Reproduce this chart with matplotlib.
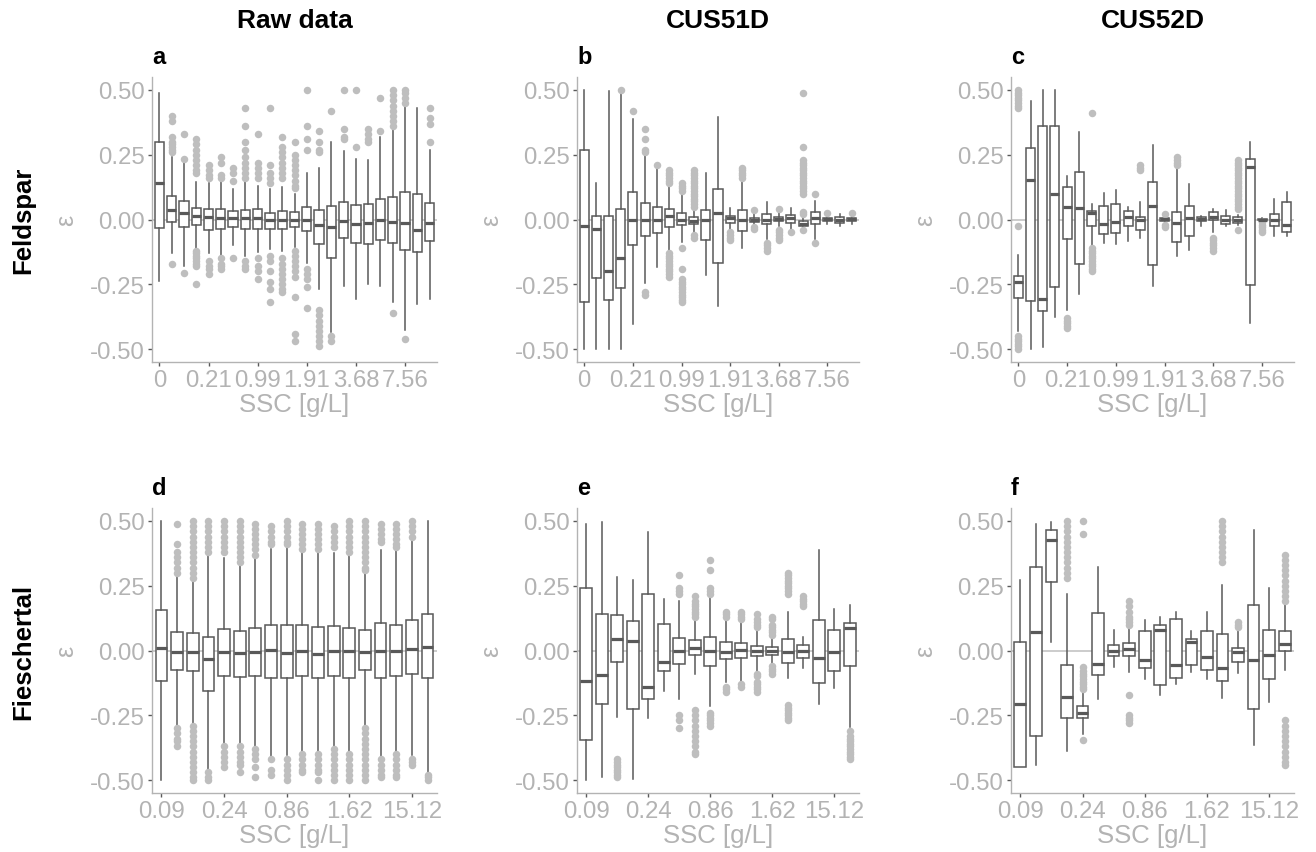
import matplotlib.pyplot as plt

plt.rcParams['font.family'] = ['Liberation Sans', 'DejaVu Sans']

GRAY_TXT = "#B3B3B3"
GRAY_PT = "#BEBEBE"
BOX_C = "#595959"

col_titles = ["Raw data", "CUS51D", "CUS52D"]
row_titles = ["Feldspar", "Fieschertal"]
panel_letters = ["a", "b", "c", "d", "e", "f"]
top_labels = ["0", "0.21", "0.99", "1.91", "3.68", "7.56"]
bottom_labels = ["0.09", "0.24", "0.86", "1.62", "15.12"]

# box stats per SSC class: (whisker low, q1, median, q3, whisker high)
feld_raw = [(-0.237, -0.033, 0.14, 0.30, 0.49), (-0.13, -0.01, 0.035, 0.09, 0.24),
            (-0.18, -0.03, 0.026, 0.072, 0.22), (-0.115, -0.02, 0.013, 0.045, 0.143),
            (-0.13, -0.04, 0.008, 0.04, 0.14), (-0.14, -0.035, 0.007, 0.04, 0.143),
            (-0.10, -0.028, 0.004, 0.033, 0.117), (-0.14, -0.038, 0.004, 0.036, 0.143),
            (-0.127, -0.035, 0.005, 0.04, 0.13), (-0.115, -0.038, 0.0, 0.026, 0.117),
            (-0.12, -0.035, -0.002, 0.033, 0.126), (-0.108, -0.028, 0.0, 0.03, 0.10),
            (-0.166, -0.045, -0.002, 0.05, 0.18), (-0.27, -0.093, -0.02, 0.036, 0.20),
            (-0.436, -0.147, -0.028, 0.054, 0.30), (-0.256, -0.07, -0.005, 0.066, 0.265),
            (-0.305, -0.09, -0.018, 0.057, 0.233), (-0.25, -0.093, -0.012, 0.06, 0.23),
            (-0.256, -0.08, -0.003, 0.078, 0.317), (-0.32, -0.089, -0.009, 0.086, 0.35),
            (-0.426, -0.117, -0.012, 0.107, 0.44), (-0.327, -0.124, -0.041, 0.098, 0.43),
            (-0.305, -0.082, -0.013, 0.063, 0.27)]
feld_raw_out = [[],
                [0.40, 0.38, 0.32, 0.30, 0.29, 0.28, 0.27, 0.26, -0.17],
                [0.33, 0.235, -0.205],
                [0.31, 0.29, 0.27, 0.25, 0.23, 0.21, 0.19, 0.18, -0.12, -0.13, -0.14, -0.15, -0.16, -0.17, -0.18, -0.25],
                [0.21, 0.19, 0.17, 0.16, -0.16, -0.18, -0.19, -0.21],
                [0.24, 0.22, 0.17, 0.16, -0.15, -0.17, -0.18, -0.19],
                [0.20, 0.18, 0.15, -0.15],
                [0.43, 0.36, 0.30, 0.27, 0.24, 0.22, 0.20, 0.18, 0.16, -0.16, -0.18, -0.19],
                [0.33, 0.22, 0.20, 0.18, 0.16, -0.15, -0.18, -0.20, -0.23],
                [0.43, 0.21, 0.18, 0.16, 0.14, -0.14, -0.16, -0.20, -0.24, -0.27, -0.32],
                [0.32, 0.28, 0.26, 0.24, 0.22, 0.20, 0.18, 0.16, -0.15, -0.17, -0.19, -0.21, -0.23, -0.25, -0.27, -0.28],
                [0.30, 0.25, 0.23, 0.21, 0.19, 0.17, 0.15, 0.13, 0.12, -0.12, -0.14, -0.16, -0.18, -0.20, -0.22, -0.30, -0.44, -0.47],
                [0.50, 0.36, 0.31, 0.27, -0.19, -0.21, -0.23, -0.26, -0.34],
                [0.34, 0.30, 0.27, 0.26, -0.35, -0.37, -0.39, -0.41, -0.43, -0.45, -0.47, -0.49],
                [0.42, -0.45, -0.47],
                [0.50, 0.35, 0.32, 0.31],
                [0.50, 0.28],
                [0.35, 0.33, 0.31, 0.30],
                [0.47, 0.34],
                [0.50, 0.48, 0.46, 0.44, 0.42, 0.40, 0.38, 0.36, -0.36],
                [0.50, 0.49, 0.47, 0.45, -0.46],
                [],
                [0.43, 0.39, 0.37, 0.30]]

feld_51 = [(-0.50, -0.317, -0.026, 0.267, 0.50), (-0.50, -0.225, -0.038, 0.013, 0.14),
           (-0.50, -0.31, -0.197, 0.014, 0.496), (-0.50, -0.265, -0.15, 0.039, 0.49),
           (-0.404, -0.10, 0.0, 0.107, 0.386), (-0.246, -0.063, -0.003, 0.063, 0.25),
           (-0.184, -0.053, -0.003, 0.05, 0.205), (-0.12, -0.028, 0.013, 0.039, 0.133),
           (-0.087, -0.022, 0.0, 0.027, 0.10), (-0.048, -0.016, -0.004, 0.008, 0.043),
           (-0.213, -0.078, -0.003, 0.037, 0.18), (-0.333, -0.166, 0.027, 0.117, 0.395),
           (-0.035, -0.013, 0.004, 0.013, 0.045), (-0.11, -0.045, -0.003, 0.035, 0.146),
           (-0.022, -0.008, 0.0, 0.006, 0.03), (-0.074, -0.018, -0.003, 0.023, 0.068),
           (-0.026, -0.006, 0.003, 0.01, 0.036), (-0.035, -0.013, 0.004, 0.019, 0.043),
           (-0.035, -0.025, -0.016, -0.006, 0.02), (-0.074, -0.017, 0.004, 0.03, 0.07),
           (-0.018, -0.006, 0.001, 0.006, 0.017), (-0.025, -0.012, 0.0, 0.008, 0.02),
           (-0.016, -0.006, 0.001, 0.006, 0.02)]
feld_51_out = [[], [], [], [0.50], [0.42],
               [0.35, 0.31, 0.27, 0.26, -0.28, -0.29],
               [0.21],
               [0.19, 0.18, 0.17, 0.16, 0.15, 0.14, -0.13, -0.14, -0.15, -0.16, -0.17, -0.18, -0.19, -0.20, -0.21, -0.22],
               [0.14, 0.13, 0.12, 0.11, -0.11, -0.19, -0.23, -0.24, -0.25, -0.26, -0.27, -0.28, -0.29, -0.30, -0.31, -0.32],
               [0.19, 0.18, 0.17, 0.16, 0.15, 0.14, 0.13, 0.12, 0.11, 0.10, 0.09, 0.08, 0.07, 0.06, 0.05, -0.06, -0.07],
               [], [],
               [-0.05, -0.06, -0.07, -0.08],
               [0.20, 0.19, 0.18, 0.17, 0.16],
               [0.035, -0.03, -0.035],
               [-0.09, -0.10, -0.11, -0.12],
               [0.04, -0.04, -0.05, -0.06, -0.07, -0.08],
               [-0.05],
               [0.49, 0.28, 0.23, 0.22, 0.21, 0.20, 0.19, 0.18, 0.17, 0.16, 0.15, 0.14, 0.13, 0.12, 0.11, 0.10, 0.03, 0.02, -0.04],
               [0.10, -0.09],
               [0.025], [], [0.025]]

feld_52 = [(-0.43, -0.304, -0.24, -0.219, -0.138), (-0.50, -0.313, 0.153, 0.276, 0.457),
           (-0.494, -0.352, -0.307, 0.36, 0.50), (-0.378, -0.261, 0.10, 0.36, 0.50),
           (-0.348, -0.074, 0.047, 0.127, 0.168), (-0.287, -0.171, 0.043, 0.182, 0.336),
           (-0.10, -0.026, 0.027, 0.034, 0.06), (-0.09, -0.057, -0.016, 0.052, 0.103),
           (-0.096, -0.052, -0.01, 0.06, 0.114), (-0.083, -0.026, 0.01, 0.032, 0.05),
           (-0.07, -0.041, -0.003, 0.01, 0.066), (-0.257, -0.177, 0.053, 0.146, 0.289),
           (-0.012, -0.006, 0.001, 0.006, 0.01), (-0.141, -0.087, -0.013, 0.03, 0.20),
           (-0.116, -0.063, 0.004, 0.052, 0.137), (-0.025, -0.006, 0.001, 0.008, 0.014),
           (-0.05, -0.003, 0.008, 0.03, 0.039), (-0.025, -0.019, -0.003, 0.014, 0.036),
           (-0.022, -0.012, 0.0, 0.008, 0.017), (-0.40, -0.251, 0.204, 0.233, 0.30),
           (-0.004, -0.003, 0.0, 0.003, 0.004), (-0.063, -0.025, -0.003, 0.023, 0.08),
           (-0.063, -0.048, -0.022, 0.069, 0.107)]
feld_52_out = [[0.50, 0.49, 0.48, 0.47, 0.46, 0.45, 0.44, 0.43, -0.025, -0.45, -0.46, -0.47, -0.48, -0.49, -0.50],
               [], [], [],
               [-0.38, -0.39, -0.40, -0.41, -0.42],
               [],
               [0.41, -0.11, -0.12, -0.13, -0.14, -0.15, -0.16, -0.17, -0.18, -0.19, -0.20],
               [], [], [],
               [0.21, 0.20, 0.19],
               [],
               [0.02, -0.02, -0.03],
               [0.24, 0.23, 0.22, 0.21],
               [], [],
               [-0.07, -0.08, -0.09, -0.10, -0.11, -0.12],
               [],
               [0.23, 0.22, 0.21, 0.20, 0.19, 0.18, 0.17, 0.16, 0.15, 0.14, 0.13, 0.12, 0.11, 0.10,
                0.09, 0.08, 0.07, 0.06, 0.05, 0.04, -0.04],
               [],
               [-0.01, -0.02, -0.03, -0.04, -0.05],
               [], []]

fiesch_raw = [(-0.50, -0.117, 0.01, 0.156, 0.50), (-0.29, -0.075, -0.005, 0.072, 0.29),
              (-0.29, -0.079, -0.005, 0.066, 0.276), (-0.466, -0.156, -0.031, 0.053, 0.363),
              (-0.363, -0.098, -0.005, 0.083, 0.356), (-0.363, -0.103, -0.008, 0.075, 0.337),
              (-0.369, -0.098, -0.004, 0.088, 0.36), (-0.408, -0.105, 0.001, 0.098, 0.39),
              (-0.405, -0.107, -0.008, 0.098, 0.40), (-0.39, -0.10, -0.001, 0.098, 0.39),
              (-0.395, -0.107, -0.012, 0.089, 0.385), (-0.38, -0.098, -0.001, 0.095, 0.375),
              (-0.395, -0.105, -0.003, 0.086, 0.366), (-0.298, -0.075, -0.005, 0.079, 0.308),
              (-0.408, -0.105, -0.003, 0.106, 0.388), (-0.39, -0.10, -0.001, 0.10, 0.39),
              (-0.405, -0.092, 0.004, 0.117, 0.43), (-0.472, -0.108, 0.015, 0.139, 0.50)]
fiesch_raw_out = [[],
                  [0.49, 0.41, 0.38, 0.36, 0.34, 0.32, 0.30, -0.30, -0.32, -0.34, -0.35, -0.37],
                  [0.50, 0.48, 0.46, 0.44, 0.42, 0.40, 0.38, 0.36, 0.34, 0.32, 0.30, 0.28,
                   -0.29, -0.31, -0.33, -0.35, -0.37, -0.39, -0.41, -0.43, -0.45, -0.47, -0.49, -0.50],
                  [0.50, 0.48, 0.46, 0.44, 0.42, 0.40, 0.38, -0.47, -0.49, -0.50],
                  [0.50, 0.48, 0.46, 0.44, 0.42, 0.40, 0.38, -0.37, -0.39, -0.41, -0.43, -0.45],
                  [0.50, 0.48, 0.46, 0.44, 0.42, 0.40, 0.38, 0.36, 0.34, -0.37, -0.39, -0.41, -0.43, -0.44, -0.47],
                  [0.49, 0.47, 0.45, 0.43, 0.41, 0.39, 0.37, -0.38, -0.40, -0.42, -0.45, -0.49],
                  [0.48, 0.46, 0.44, 0.42, 0.41, -0.42, -0.46, -0.48],
                  [0.50, 0.48, 0.46, 0.44, 0.42, 0.41, -0.42, -0.44, -0.46, -0.48, -0.50],
                  [0.49, 0.47, 0.45, 0.43, 0.41, 0.39, -0.40, -0.42, -0.44, -0.46, -0.47],
                  [0.49, 0.47, 0.45, 0.43, 0.41, 0.39, -0.40, -0.42, -0.44, -0.46, -0.47, -0.50],
                  [0.48, 0.46, 0.44, 0.42, 0.40, -0.38, -0.40, -0.42, -0.44, -0.46, -0.48, -0.50],
                  [0.50, 0.48, 0.46, 0.44, 0.42, 0.40, 0.38, -0.40, -0.42, -0.44, -0.46, -0.48, -0.50],
                  [0.50, 0.48, 0.46, 0.44, 0.42, 0.40, 0.38, 0.36, 0.34, 0.32, 0.31,
                   -0.30, -0.32, -0.34, -0.36, -0.38, -0.40, -0.42, -0.44, -0.46, -0.48, -0.50],
                  [0.49, 0.47, 0.45, 0.43, 0.42, -0.42, -0.44, -0.46, -0.48, -0.49],
                  [0.49, 0.47, 0.45, 0.43, 0.41, 0.40, -0.40, -0.42, -0.44, -0.46, -0.48, -0.49],
                  [0.50, 0.48, 0.46, 0.44, -0.42, -0.43, -0.44],
                  [-0.48, -0.49, -0.50]]

fiesch_51 = [(-0.50, -0.345, -0.119, 0.243, 0.49), (-0.487, -0.207, -0.094, 0.14, 0.497),
             (-0.255, -0.043, 0.044, 0.136, 0.284), (-0.495, -0.224, 0.036, 0.112, 0.274),
             (-0.262, -0.187, -0.142, 0.22, 0.459), (-0.155, -0.078, -0.045, 0.103, 0.20),
             (-0.187, -0.052, 0.0, 0.048, 0.19), (-0.09, -0.016, 0.01, 0.041, 0.129),
             (-0.213, -0.058, 0.0, 0.053, 0.213), (-0.123, -0.032, -0.004, 0.032, 0.13),
             (-0.116, -0.03, 0.003, 0.03, 0.116), (-0.078, -0.023, 0.0, 0.019, 0.084),
             (-0.052, -0.016, 0.0, 0.013, 0.052), (-0.107, -0.049, -0.004, 0.043, 0.149),
             (-0.067, -0.028, 0.0, 0.022, 0.052), (-0.207, -0.125, -0.03, 0.119, 0.388),
             (-0.146, -0.078, -0.006, 0.078, 0.161), (-0.297, -0.061, 0.088, 0.107, 0.177)]
fiesch_51_out = [[], [],
                 [-0.42, -0.43, -0.44, -0.45, -0.46, -0.47, -0.48, -0.49],
                 [], [], [],
                 [0.29, 0.24, 0.23, 0.22, -0.25, -0.27, -0.30],
                 [0.21, 0.19, 0.18, 0.17, 0.16, 0.15, 0.14, 0.13,
                  -0.23, -0.25, -0.27, -0.29, -0.31, -0.33, -0.35, -0.37, -0.39, -0.40],
                 [0.35, 0.31, 0.24, 0.23, 0.22, -0.24, -0.25, -0.26, -0.27, -0.28, -0.29],
                 [0.15, 0.14, 0.13, -0.14, -0.15, -0.16],
                 [0.15, 0.14, 0.13, 0.12, -0.13, -0.14],
                 [0.14, 0.12, 0.11, 0.10, 0.09, -0.09, -0.10, -0.12, -0.13, -0.14, -0.15, -0.16],
                 [0.13, 0.12, 0.10, 0.09, 0.08, 0.07, 0.06, -0.06, -0.07, -0.08, -0.09],
                 [0.30, 0.29, 0.28, 0.27, 0.26, 0.25, 0.24, 0.23, 0.22,
                  -0.21, -0.22, -0.23, -0.24, -0.25, -0.26, -0.27],
                 [0.21, 0.20, 0.19, 0.18, 0.17],
                 [], [],
                 [-0.31, -0.33, -0.34, -0.35, -0.36, -0.37, -0.38, -0.39, -0.40, -0.41, -0.42]]

fiesch_52 = [(-0.45, -0.45, -0.207, 0.031, 0.273), (-0.443, -0.329, 0.07, 0.324, 0.487),
             (0.034, 0.263, 0.427, 0.466, 0.496), (-0.387, -0.26, -0.178, -0.057, 0.218),
             (-0.323, -0.26, -0.241, -0.214, -0.155), (-0.187, -0.093, -0.054, 0.144, 0.321),
             (-0.063, -0.021, -0.003, 0.023, 0.079), (-0.083, -0.021, 0.004, 0.03, 0.098),
             (-0.111, -0.067, -0.038, 0.076, 0.118), (-0.171, -0.132, 0.079, 0.098, 0.128),
             (-0.128, -0.106, -0.057, 0.12, 0.15), (-0.083, -0.057, 0.034, 0.043, 0.076),
             (-0.109, -0.074, -0.025, 0.076, 0.15), (-0.184, -0.118, -0.067, 0.062, 0.251),
             (-0.085, -0.044, -0.005, 0.01, 0.085), (-0.365, -0.225, -0.038, 0.174, 0.465),
             (-0.197, -0.111, -0.018, 0.079, 0.241), (-0.076, 0.0, 0.025, 0.076, 0.189)]
fiesch_52_out = [[], [], [],
                 [0.50, 0.48, 0.46, 0.44, 0.42, 0.40, 0.38, 0.36, 0.34, 0.32, 0.30, 0.28],
                 [0.50, 0.45, -0.065, -0.08, -0.09, -0.10, -0.11, -0.12, -0.13, -0.14, -0.15, -0.345],
                 [], [],
                 [0.19, 0.17, 0.15, 0.13, 0.12, 0.11, 0.10, -0.17, -0.25, -0.26, -0.27, -0.28],
                 [], [], [], [], [],
                 [0.50, 0.48, 0.46, 0.44, 0.42, 0.40, 0.38, 0.36, 0.34],
                 [0.11, 0.10, 0.09],
                 [], [],
                 [0.37, 0.35, 0.33, 0.31, 0.29, 0.27, 0.25, 0.23, 0.21, 0.19,
                  -0.27, -0.29, -0.31, -0.33, -0.35, -0.37, -0.39, -0.41, -0.43, -0.44]]


def to_stats(boxes, outliers):
    stats = []
    for (lo, q1, med, q3, hi), fl in zip(boxes, outliers):
        stats.append(dict(whislo=lo, q1=q1, med=med, q3=q3, whishi=hi, fliers=fl))
    return stats


def draw_panel(ax, boxes, outliers, labels, letter):
    n = len(boxes)
    ax.axhline(0, color=GRAY_PT, lw=1.1, zorder=1)
    ax.bxp(to_stats(boxes, outliers), positions=range(n), widths=0.75,
           patch_artist=True, showcaps=False, manage_ticks=False,
           boxprops=dict(facecolor="white", edgecolor=BOX_C, linewidth=1.1),
           whiskerprops=dict(color=BOX_C, linewidth=1.1),
           medianprops=dict(color=BOX_C, linewidth=2.3, solid_capstyle="butt"),
           flierprops=dict(marker="o", markerfacecolor=GRAY_PT, markeredgecolor="none",
                           markersize=5.4, linestyle="none"),
           zorder=2)
    ax.set_xlim(-0.6, n - 0.4)
    ax.set_ylim(-0.55, 0.55)
    ax.set_xticks(range(0, n, 4))
    ax.set_xticklabels(labels)
    ax.set_yticks([-0.5, -0.25, 0, 0.25, 0.5])
    ax.set_yticklabels(["-0.50", "-0.25", "0.00", "0.25", "0.50"])
    for s in ["top", "right"]:
        ax.spines[s].set_visible(False)
    for s in ["left", "bottom"]:
        ax.spines[s].set_color(GRAY_TXT)
        ax.spines[s].set_linewidth(1.0)
    ax.tick_params(colors=BOX_C, labelcolor=GRAY_TXT, labelsize=17.3, length=3, width=1.0, pad=2)
    ax.set_xlabel("SSC [g/L]", color=GRAY_TXT, fontsize=18.5, labelpad=1)
    ax.set_ylabel("ε", color=GRAY_TXT, fontsize=18, labelpad=9)
    ax.text(0, 1.05, letter, transform=ax.transAxes, ha="left", va="baseline",
            fontsize=17, fontweight="bold")


fig = plt.figure(figsize=(13.16, 8.53), dpi=100)
W, H = 1316, 853
lefts = [152, 577, 1011]
widths = [285, 282, 283]
tops = [78, 509]
h = 285

panels = [(feld_raw, feld_raw_out), (feld_51, feld_51_out), (feld_52, feld_52_out),
          (fiesch_raw, fiesch_raw_out), (fiesch_51, fiesch_51_out), (fiesch_52, fiesch_52_out)]

for i, (boxes, outliers) in enumerate(panels):
    r, c = divmod(i, 3)
    ax = fig.add_axes([lefts[c] / W, 1 - (tops[r] + h) / H, widths[c] / W, h / H])
    labels = top_labels if r == 0 else bottom_labels
    draw_panel(ax, boxes, outliers, labels, panel_letters[i])
    if r == 0:
        fig.text((lefts[c] + widths[c] / 2) / W, 1 - 21 / H, col_titles[c],
                 ha="center", va="center", fontsize=19, fontweight="bold")

for r, name in enumerate(row_titles):
    yc = 1 - (tops[r] + h / 2) / H
    fig.text(23 / W, yc, name, rotation=90, ha="center", va="center",
             fontsize=18.5, fontweight="bold")

fig.savefig("out.png", dpi=100)
